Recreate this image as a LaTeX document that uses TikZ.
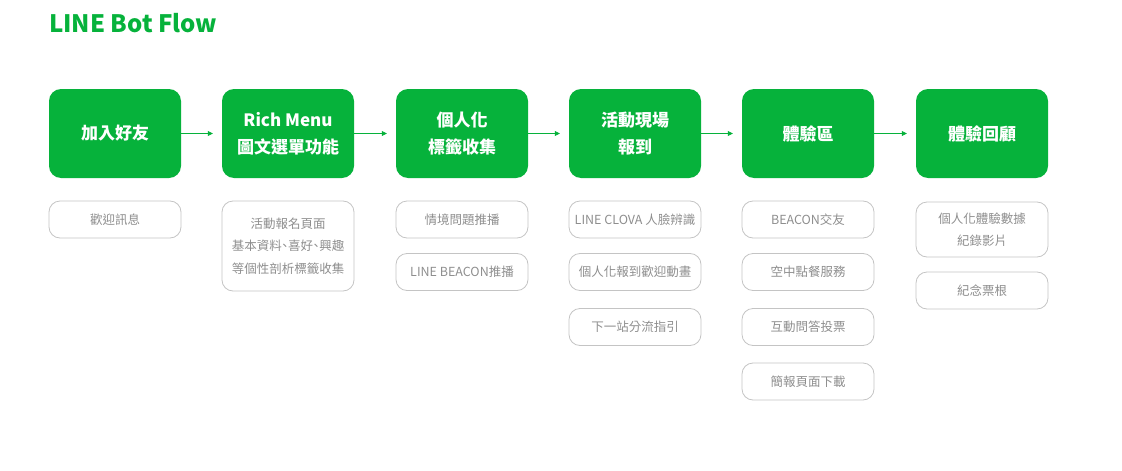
\documentclass[tikz,border=0pt]{standalone}
\usepackage{fontspec}
\setmainfont{Noto Sans CJK TC}
\newfontfamily\halffont[RawFeature=+halt]{Noto Sans CJK TC}
\usetikzlibrary{arrows.meta}
\definecolor{linegreen}{HTML}{06B23B}
\definecolor{subgray}{HTML}{8E8E8E}
\definecolor{subborder}{HTML}{C4C4C4}
\newcommand{\hcomma}{{\halffont 、}}
\tikzset{
  mainbox/.style={rectangle, rounded corners=12pt, fill=linegreen, text=white,
    minimum width=132pt, minimum height=89pt, align=center, inner sep=0pt,
    font=\fontsize{17}{27}\selectfont\bfseries},
  subbox/.style={rectangle, rounded corners=11pt, draw=subborder, line width=0.8pt,
    text=subgray, minimum width=132pt, minimum height=37pt, align=center, inner sep=0pt,
    font=\fontsize{12.5}{22.5}\selectfont},
  flowarrow/.style={draw=linegreen, line width=0.7pt, shorten >=9pt,
    -{Triangle[width=5pt,length=5pt]}},
}
\begin{document}
\begin{tikzpicture}[x=1pt,y=-1pt]
\useasboundingbox (0,0) rectangle (1122,471);
\node[anchor=base west, text=linegreen, font=\fontsize{24}{30}\selectfont\bfseries, inner sep=0pt] (title) at (49,32) {LINE Bot Flow};

\node[mainbox] (g1) at (115,133.5) {加入好友};
\node[mainbox] (g2) at (288,133.5) {Rich Menu\\圖文選單功能};
\node[mainbox] (g3) at (462,133.5) {個人化\\標籤收集};
\node[mainbox] (g4) at (635,133.5) {活動現場\\報到};
\node[mainbox] (g5) at (808,133.5) {體驗區};
\node[mainbox] (g6) at (982,133.5) {體驗回顧};

\draw[flowarrow] (g1.east) -- (g2.west);
\draw[flowarrow] (g2.east) -- (g3.west);
\draw[flowarrow] (g3.east) -- (g4.west);
\draw[flowarrow] (g4.east) -- (g5.west);
\draw[flowarrow] (g5.east) -- (g6.west);

\node[subbox] (s11) at (115,219.5) {歡迎訊息};

\node[subbox, minimum height=90pt] (s21) at (288,246) {活動報名頁面\\基本資料\hcomma 喜好\hcomma 興趣\\等個性剖析標籤收集};

\node[subbox] (s31) at (462,219.5) {情境問題推播};
\node[subbox] (s32) at (462,272) {LINE BEACON推播};

\node[subbox] (s41) at (635,219.5) {LINE CLOVA 人臉辨識};
\node[subbox] (s42) at (635,272) {個人化報到歡迎動畫};
\node[subbox] (s43) at (635,327) {下一站分流指引};

\node[subbox] (s51) at (808,219.5) {BEACON交友};
\node[subbox] (s52) at (808,272) {空中點餐服務};
\node[subbox] (s53) at (808,327) {互動問答投票};
\node[subbox] (s54) at (808,381.5) {簡報頁面下載};

\node[subbox, minimum height=55pt] (s61) at (982,229.5) {個人化體驗數據\\紀錄影片};
\node[subbox] (s62) at (982,290.5) {紀念票根};
\end{tikzpicture}
\end{document}
